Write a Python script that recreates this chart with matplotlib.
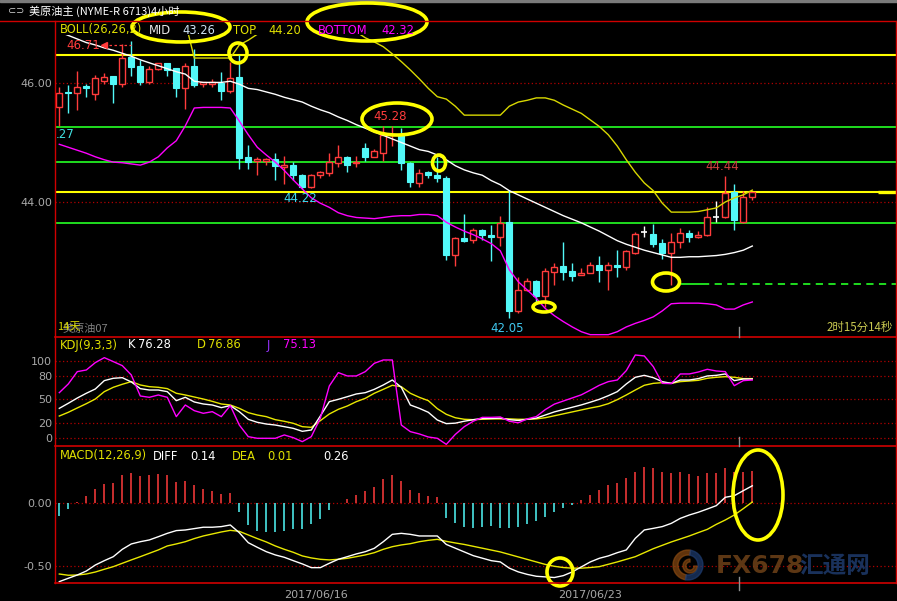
import matplotlib
matplotlib.use('Agg')
import matplotlib.pyplot as plt
from matplotlib.patches import Rectangle, Ellipse, Wedge

plt.rcParams['font.family'] = ['DejaVu Sans', 'Noto Sans CJK SC']

# ---------------- data ----------------
opens = [45.59,45.85,45.83,45.95,45.81,46.03,46.11,45.98,46.44,46.29,
         46.02,46.24,46.33,46.25,45.92,46.29,45.98,45.99,46.00,45.87,
         46.10,44.75,44.69,44.69,44.72,44.59,44.62,44.45,44.25,44.45,
         44.48,44.66,44.76,44.65,44.90,44.76,44.83,45.13,45.13,44.65,
         44.32,44.51,44.45,44.40,43.11,43.39,43.36,43.53,43.45,43.42,
         43.66,42.16,42.52,42.67,42.42,42.83,42.92,42.84,42.78,42.81,
         42.94,42.86,42.94,42.91,43.15,43.49,43.47,43.31,43.14,43.32,
         43.48,43.41,43.45,43.74,43.74,44.16,43.67,44.08]
highs = [45.94,45.97,46.20,45.98,46.13,46.16,46.12,46.66,46.71,46.39,
         46.29,46.34,46.34,46.26,46.34,46.58,46.02,46.06,46.19,46.36,
         46.47,44.96,44.76,44.74,44.83,44.78,44.68,44.47,44.47,44.52,
         44.82,44.96,44.77,44.77,44.99,44.89,45.28,45.28,45.24,44.68,
         44.55,44.52,44.76,44.44,43.42,43.80,43.57,43.54,43.61,43.76,
         44.20,42.74,42.72,42.69,42.89,42.97,43.33,42.98,42.89,42.99,
         43.09,43.00,43.19,43.19,43.50,43.60,43.63,43.37,43.48,43.56,
         43.53,43.52,43.91,44.02,44.44,44.31,44.19,44.17]
lows = [45.27,45.49,45.55,45.77,45.71,45.99,45.67,45.94,46.11,45.97,
        45.99,46.22,46.11,45.77,45.57,45.94,45.94,45.94,45.71,45.83,
        44.55,44.55,44.45,44.62,44.37,44.31,44.37,44.22,44.24,44.41,
        44.44,44.59,44.51,44.58,44.69,44.75,44.69,44.94,44.54,44.25,
        44.25,44.40,44.34,43.03,42.92,43.32,43.31,43.36,43.01,43.26,
        42.05,42.13,42.51,42.29,42.24,42.61,42.69,42.68,42.77,42.80,
        42.66,42.52,42.74,42.85,43.12,43.42,43.25,43.04,42.61,43.22,
        43.32,43.40,43.43,43.67,43.73,43.53,43.64,44.04]
closes = [45.84,45.83,45.94,45.91,46.08,46.10,45.98,46.42,46.27,46.01,
          46.23,46.33,46.22,45.92,46.29,45.97,46.01,46.01,45.87,46.09,
          44.74,44.68,44.72,44.72,44.61,44.62,44.45,44.25,44.45,44.50,
          44.67,44.75,44.62,44.68,44.76,44.86,45.13,45.15,44.65,44.33,
          44.49,44.45,44.40,43.11,43.39,43.34,43.53,43.45,43.42,43.64,
          42.17,42.52,42.67,42.42,42.84,42.90,42.83,42.76,42.81,42.94,
          42.86,42.94,42.91,43.18,43.47,43.49,43.29,43.15,43.32,43.48,
          43.41,43.45,43.74,43.74,44.15,43.70,44.08,44.16]

boll_mid = [46.86,46.80,46.74,46.68,46.64,46.59,46.55,46.50,46.45,46.39,
            46.34,46.29,46.24,46.19,46.15,46.03,46.01,46.01,46.01,46.03,
            45.98,45.91,45.89,45.85,45.81,45.76,45.72,45.68,45.61,45.55,
            45.50,45.43,45.37,45.30,45.24,45.18,45.12,45.06,45.00,44.94,
            44.88,44.85,44.79,44.71,44.61,44.54,44.49,44.45,44.36,44.29,
            44.19,44.12,44.05,43.98,43.91,43.84,43.77,43.71,43.65,43.58,
            43.51,43.43,43.35,43.29,43.24,43.19,43.15,43.11,43.07,43.07,
            43.08,43.08,43.09,43.10,43.12,43.15,43.19,43.26]
boll_top = [48.74,48.67,48.61,48.54,48.50,48.45,48.42,48.34,48.25,48.15,
            48.00,47.80,47.58,47.35,47.03,46.42,46.42,46.42,46.42,46.42,
            46.64,46.72,46.82,46.91,46.94,47.00,47.08,47.14,47.16,47.13,
            47.08,47.04,46.97,46.86,46.76,46.69,46.61,46.49,46.36,46.22,
            46.07,45.91,45.77,45.73,45.61,45.46,45.46,45.46,45.46,45.46,
            45.61,45.68,45.71,45.75,45.75,45.71,45.63,45.56,45.49,45.38,
            45.27,45.13,44.94,44.71,44.50,44.32,44.19,43.98,43.83,43.83,
            43.83,43.84,43.87,43.90,44.00,44.07,44.12,44.20]
boll_bot = [44.97,44.92,44.87,44.82,44.76,44.71,44.67,44.66,44.64,44.62,
            44.67,44.76,44.91,45.03,45.28,45.58,45.59,45.59,45.59,45.58,
            45.36,45.13,44.92,44.79,44.67,44.53,44.37,44.22,44.07,43.98,
            43.91,43.82,43.77,43.74,43.73,43.72,43.74,43.76,43.77,43.77,
            43.79,43.79,43.77,43.66,43.58,43.51,43.45,43.38,43.30,43.18,
            42.86,42.66,42.52,42.38,42.21,42.09,41.99,41.90,41.82,41.77,
            41.77,41.77,41.82,41.90,41.96,42.01,42.07,42.17,42.29,42.30,
            42.30,42.30,42.29,42.27,42.20,42.20,42.27,42.32]

kdj_k = [38.6,45.1,51.9,58.0,63.5,74.3,77.3,78.1,72.6,64.0,
         62.2,62.2,60.1,48.5,52.8,46.8,44.2,42.9,39.5,42.1,
         34.3,24.4,20.6,18.4,17.1,15.0,12.8,9.0,10.7,28.7,
         47.2,50.2,53.6,57.1,58.8,63.1,68.7,75.1,65.7,42.9,
         38.6,33.5,23.6,18.9,19.5,22.0,24.0,25.5,25.5,26.0,
         24.0,23.0,24.5,26.0,30.0,34.0,37.0,40.0,43.0,46.5,
         50.2,54.9,60.1,70.0,78.6,81.1,78.1,73.0,70.8,75.1,
         75.1,76.9,80.3,81.1,82.9,74.3,76.4,76.3]
kdj_d = [28.7,33.5,39.1,44.6,50.6,60.1,65.7,69.6,73.0,68.7,
         66.5,65.7,64.0,58.0,55.8,53.2,50.6,47.6,44.2,42.9,
         38.6,33.0,30.0,27.9,24.0,21.9,19.3,15.0,14.1,22.7,
         31.3,37.3,41.6,47.2,51.5,58.0,63.1,68.3,66.5,58.0,
         52.8,48.5,38.2,30.9,26.5,24.5,24.0,24.5,25.0,25.0,
         25.0,24.5,24.5,25.0,26.5,29.0,31.5,34.0,36.5,39.0,
         41.2,44.6,49.8,55.8,62.2,68.3,70.8,71.7,70.8,73.0,
         73.8,74.7,77.3,78.6,79.4,78.6,76.9,76.9]
kdj_j = [58.8,70.0,85.9,88.0,97.5,103.9,98.8,93.6,81.6,54.5,
         52.8,55.8,52.8,27.9,42.9,35.6,32.2,34.3,27.9,42.1,
         17.1,2.1,0.0,0.0,0.0,4.3,0.8,-4.3,2.1,25.7,
         67.4,84.6,80.3,80.3,85.9,96.6,100.9,100.9,17.1,8.6,
         5.6,1.7,0.0,-7.8,5.0,15.0,22.0,27.0,27.0,27.5,
         22.0,20.0,25.0,28.0,37.0,44.0,48.0,52.0,56.0,62.0,
         68.3,73.0,75.1,87.2,107.3,106.1,92.3,70.8,70.4,82.9,
         82.9,85.4,88.9,86.7,85.9,67.8,74.3,75.1]

macd_diff = [-0.628,-0.601,-0.575,-0.543,-0.495,-0.460,-0.428,-0.369,-0.326,-0.308,
             -0.294,-0.268,-0.241,-0.219,-0.214,-0.203,-0.192,-0.192,-0.187,-0.174,
             -0.236,-0.316,-0.353,-0.388,-0.414,-0.433,-0.460,-0.486,-0.516,-0.516,
             -0.481,-0.449,-0.428,-0.406,-0.388,-0.361,-0.308,-0.249,-0.241,-0.249,
             -0.262,-0.262,-0.262,-0.330,-0.360,-0.390,-0.420,-0.440,-0.460,-0.470,
             -0.520,-0.550,-0.570,-0.585,-0.590,-0.595,-0.580,-0.550,-0.510,-0.470,
             -0.441,-0.422,-0.396,-0.374,-0.281,-0.214,-0.201,-0.187,-0.161,-0.121,
             -0.094,-0.072,-0.046,-0.019,0.048,0.061,0.101,0.14]
macd_dea = [-0.567,-0.577,-0.575,-0.567,-0.551,-0.529,-0.508,-0.481,-0.454,-0.428,
            -0.401,-0.374,-0.342,-0.326,-0.308,-0.283,-0.262,-0.246,-0.230,-0.217,
            -0.225,-0.254,-0.283,-0.310,-0.342,-0.369,-0.393,-0.422,-0.438,-0.449,
            -0.454,-0.449,-0.441,-0.428,-0.414,-0.396,-0.369,-0.348,-0.334,-0.324,
            -0.308,-0.297,-0.289,-0.305,-0.318,-0.330,-0.345,-0.360,-0.375,-0.390,
            -0.410,-0.430,-0.450,-0.470,-0.490,-0.505,-0.515,-0.520,-0.520,-0.515,
            -0.508,-0.489,-0.470,-0.449,-0.428,-0.396,-0.364,-0.337,-0.310,-0.286,
            -0.262,-0.235,-0.209,-0.169,-0.134,-0.094,-0.043,0.01]
macd_hist = [-0.099,-0.046,0.011,0.058,0.115,0.157,0.165,0.227,0.245,0.222,
             0.227,0.237,0.227,0.173,0.181,0.147,0.115,0.099,0.077,0.085,
             -0.067,-0.174,-0.219,-0.233,-0.233,-0.219,-0.208,-0.208,-0.168,-0.123,
             -0.054,0.003,0.035,0.067,0.099,0.128,0.192,0.227,0.179,0.107,
             0.085,0.059,0.048,-0.115,-0.160,-0.190,-0.200,-0.190,-0.180,-0.200,
             -0.200,-0.190,-0.170,-0.140,-0.110,-0.070,-0.040,-0.010,0.030,0.070,
             0.110,0.147,0.165,0.205,0.253,0.288,0.285,0.248,0.245,0.251,
             0.235,0.221,0.243,0.245,0.285,0.248,0.253,0.26]

yellow_levels = [46.47, 44.16]
green_levels = [45.26, 44.68, 43.64]
support_level = 42.62
date_ticks = [28.5, 59.0]
date_labels = ['2017/06/16', '2017/06/23']

# ---------------- layout ----------------
W, H = 897, 601
fig = plt.figure(figsize=(W / 100, H / 100), dpi=100)
fig.patch.set_facecolor('black')

X0, X1 = 55, 896
PPU = 9.0
FIRST = 59.3
xmin = -(FIRST - X0) / PPU
xmax = xmin + (X1 - X0) / PPU
n = len(closes)
xs = list(range(n))

GRAY = '#a8a8a8'
RED = '#ff3c3c'
CYAN = '#52f8f8'
YEL = '#e0e000'
MAG = '#ff00ff'
DOT = '#b00000'


def px_axes(x0, y0, x1, y1, z=1):
    a = fig.add_axes([x0 / W, 1 - y1 / H, (x1 - x0) / W, (y1 - y0) / H], zorder=z)
    a.set_facecolor('none')
    for s in a.spines.values():
        s.set_visible(False)
    a.set_xlim(xmin, xmax)
    a.set_xticks([])
    a.tick_params(axis='y', colors=GRAY, length=0, pad=2, labelsize=8)
    return a


# main price panel
ax = px_axes(X0, 35, X1, 337)
ax.set_ylim(41.731, 46.807)
ax.set_yticks([44, 46])
ax.set_yticklabels(['44.00', '46.00'])
for lv in [44.0, 46.0]:
    ax.axhline(lv, color=DOT, ls=(0, (1, 2)), lw=0.9, zorder=1)
for lv in yellow_levels:
    ax.axhline(lv, color='#ffff00', lw=1.5, zorder=2)
for lv in green_levels:
    ax.axhline(lv, color='#22ee22', lw=1.3, zorder=2)
ax.hlines(closes[-1], (878 - FIRST) / PPU, xmax, color='#ffff00', lw=2.4, zorder=2)
sx = (681 - FIRST) / PPU
sx2 = (702 - FIRST) / PPU
ax.hlines(support_level, sx, sx2, color='#22ee22', lw=1.3, zorder=2)
ax.hlines(support_level, sx2, xmax, color='#22ee22', lw=1.3, linestyles=(0, (4, 3)), zorder=2)

bw = 0.64
for i, (o, h, l, c) in enumerate(zip(opens, highs, lows, closes)):
    if abs(c - o) < 1e-9:
        ax.vlines(i, l, h, color='white', lw=1, zorder=3)
        ax.hlines(o, i - bw / 2, i + bw / 2, color='white', lw=1.2, zorder=3)
    elif c > o:
        ax.vlines(i, c, h, color=RED, lw=1, zorder=3)
        ax.vlines(i, l, o, color=RED, lw=1, zorder=3)
        ax.add_patch(Rectangle((i - bw / 2, o), bw, c - o, facecolor='black',
                               edgecolor=RED, lw=1, zorder=3))
    else:
        ax.vlines(i, l, h, color=CYAN, lw=1, zorder=3)
        ax.add_patch(Rectangle((i - bw / 2, c), bw, max(o - c, 0.012), facecolor=CYAN,
                               edgecolor=CYAN, lw=0.8, zorder=3))

ax.plot(xs, boll_mid, color='white', lw=1, zorder=4)
ax.plot(xs, boll_top, color='#d8d800', lw=1, zorder=4)
ax.plot(xs, boll_bot, color=MAG, lw=1, zorder=4)

hi_y = 46.635
ax.text((100 - FIRST) / PPU, hi_y, '46.71', color=RED, fontsize=8.5, ha='right', va='center', zorder=5)
ax.plot([(104 - FIRST) / PPU, 8], [hi_y, hi_y], color=RED, lw=0.9, ls=(0, (2, 2)), zorder=5)
ax.plot([(104 - FIRST) / PPU], [hi_y], marker='<', color=RED, ms=4, zorder=5)
ax.text((390 - FIRST) / PPU, 45.43, '45.28', color=RED, fontsize=8.5, ha='center', va='center', zorder=5)
ax.text((300 - FIRST) / PPU, 44.06, '44.22', color='#40d8f0', fontsize=8.5, ha='center', va='center', zorder=5)
ax.text((507 - FIRST) / PPU, 41.88, '42.05', color='#40c8f0', fontsize=8.5, ha='center', va='center', zorder=5)
ax.text((722 - FIRST) / PPU, 44.59, '44.44', color='#d04040', fontsize=8.5, ha='center', va='center', zorder=5)
ax.text((56 - FIRST) / PPU, 45.13, '.27', color='#40e0e0', fontsize=8.5, ha='left', va='center', zorder=5)

# KDJ panel
kx = px_axes(X0, 337, X1, 446)
kx.set_ylim(-9.92, 130.5)
kx.set_yticks([0, 20, 50, 80, 100])
kx.set_yticklabels(['0', '20', '50', '80', '100'])
for lv in [0, 20, 50, 80, 100]:
    kx.axhline(lv, color=DOT, ls=(0, (1, 2)), lw=0.9, zorder=1)
kx.plot(xs, kdj_d, color='#e8e800', lw=1, zorder=3)
kx.plot(xs, kdj_k, color='white', lw=1, zorder=3)
kx.plot(xs, kdj_j, color=MAG, lw=1, zorder=3)

# MACD panel
mx = px_axes(X0, 446, X1, 583)
mx.set_ylim(-0.639, 0.459)
mx.set_yticks([0.0, -0.5])
mx.set_yticklabels(['0.00', '-0.50'])
for lv in [0.0, -0.5]:
    mx.axhline(lv, color=DOT, ls=(0, (1, 2)), lw=0.9, zorder=1)
bar_cols = [RED if v >= 0 else CYAN for v in macd_hist]
mx.vlines(xs, 0, macd_hist, colors=bar_cols, lw=1.1, zorder=2)
mx.plot(xs, macd_dea, color='#e8e800', lw=1, zorder=3)
mx.plot(xs, macd_diff, color='white', lw=1, zorder=3)
mx.set_xticks(date_ticks)
mx.set_xticklabels(date_labels)
mx.tick_params(axis='x', colors=GRAY, length=0, pad=5, labelsize=8)

# ---------------- overlay (frame, headers, annotations) ----------------
ov = fig.add_axes([0, 0, 1, 1], zorder=10)
ov.set_xlim(0, W)
ov.set_ylim(H, 0)
ov.axis('off')
ov.patch.set_alpha(0)

ov.add_patch(Rectangle((0, 0), W, 2, color='#7a7a7a'))
FR = '#d00000'
ov.plot([0, W], [21, 21], color=FR, lw=1)
for yy in [337, 446, 583]:
    ov.plot([X0, X1], [yy, yy], color=FR, lw=1.2)
ov.plot([X0, X0], [21, 583], color=FR, lw=1)
ov.plot([X1, X1], [21, 583], color=FR, lw=1)
for (y0, y1) in [(327, 337), (437, 446), (577, 590)]:
    ov.plot([739, 739], [y0, y1], color='#909090', lw=1)

ov.text(8, 11, '⊂⊃', color='#d0d0d0', fontsize=7, va='center', ha='left')
ov.text(29, 11, '美原油主 (NYME-R 6713)4小时', color='white', fontsize=8,
        va='center', ha='left', family=['Noto Sans CJK SC', 'DejaVu Sans'])


def hdr(items, y, fs=8.3):
    for txt, x, col in items:
        ov.text(x, y, txt, color=col, fontsize=fs, va='center', ha='left')


hdr([('BOLL(26,26,2)', 60, YEL), ('MID', 149, '#e8e8e8'), ('43.26', 182, '#cfe3f5'),
     ('TOP', 233, YEL), ('44.20', 268, YEL), ('BOTTOM', 318, MAG), ('42.32', 381, MAG)], 30)
hdr([('KDJ(9,3,3)', 60, YEL), ('K', 128, 'white'), ('76.28', 138, 'white'),
     ('D', 197, YEL), ('76.86', 208, YEL), ('J', 267, '#9933ff'), ('75.13', 283, MAG)], 345)
hdr([('MACD(12,26,9)', 60, YEL), ('DIFF', 153, 'white'), ('0.14', 190, 'white'),
     ('DEA', 232, YEL), ('0.01', 267, YEL), ('0.26', 323, 'white')], 456)

ov.text(63, 329, '美原油07', color='#808080', fontsize=8, va='center', ha='left',
        family=['Noto Sans CJK SC', 'DejaVu Sans'])
ov.text(57, 327, '14天', color='#d8d800', fontsize=8, va='center', ha='left',
        family=['Noto Sans CJK SC', 'DejaVu Sans'])
ov.text(893, 327, '2时15分14秒', color='#c8c850', fontsize=8.3, va='center', ha='right',
        family=['Noto Sans CJK SC', 'DejaVu Sans'])

for (cx, cy, w, h) in [(181, 27, 98, 30), (367, 22, 120, 38), (238, 53, 18, 20),
                       (397, 119, 70, 32), (439, 163, 13, 16), (544, 307, 22, 10),
                       (666, 282, 27, 18), (758, 495, 50, 90), (560, 572, 26, 28)]:
    ov.add_patch(Ellipse((cx, cy), w, h, fill=False, ec='#ffff00', lw=2.6))

# watermark
ov.add_patch(Wedge((688, 565), 15, 100, 280, width=5, color='#8a4a12', alpha=0.7))
ov.add_patch(Wedge((688, 565), 15, 280, 100, width=5, color='#1e3c70', alpha=0.7))
ov.add_patch(Wedge((690, 566), 7, 0, 270, width=3, color='#8a4a12', alpha=0.65))
ov.text(716, 566, 'FX678', color='#6e4218', fontsize=18, fontweight='bold',
        va='center', ha='left', alpha=0.85)
ov.text(799, 566, '汇通网', color='#1c3766', fontsize=17, fontweight='bold',
        va='center', ha='left', family=['Noto Sans CJK SC', 'DejaVu Sans'], alpha=0.9)

fig.savefig('out.png', dpi=100, facecolor='black')
